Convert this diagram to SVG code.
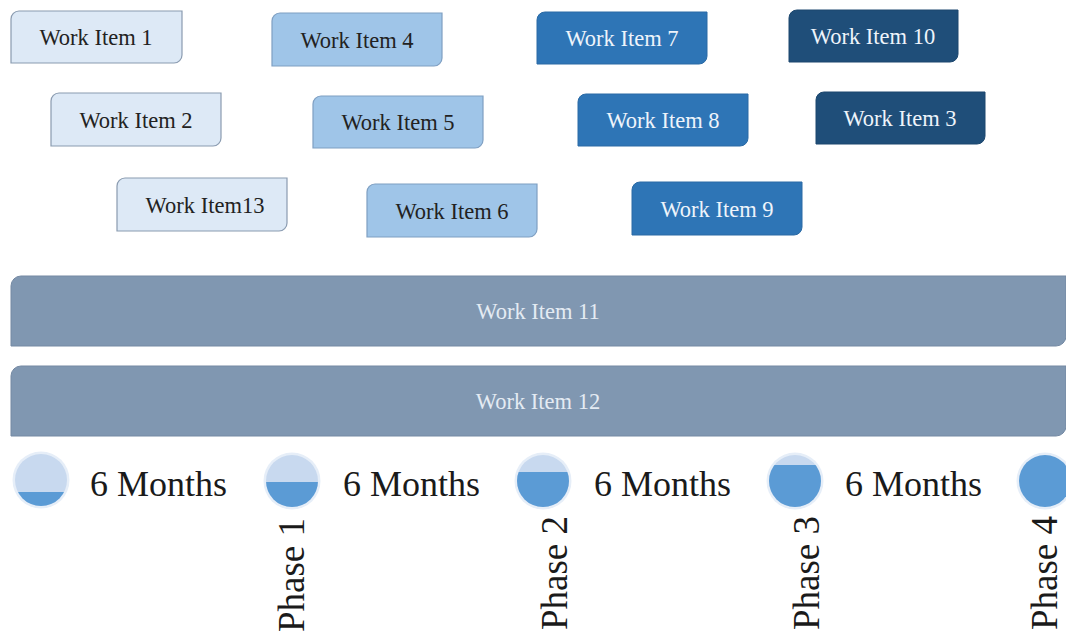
<svg xmlns="http://www.w3.org/2000/svg" width="1066" height="639" viewBox="0 0 1066 639">
<style>
.t{font-family:"Liberation Serif","Times New Roman",serif;font-size:22.5px;text-anchor:middle}
.dk{fill:#222}
.lt{fill:#eef4fb}
.bt{fill:#e4ebf3}
.b1{fill:#dde9f6;stroke:#8a9bb0;stroke-width:1.2}
.b2{fill:#9fc5e8;stroke:#7f9fc2;stroke-width:1.2}
.b3{fill:#2e75b6;stroke:#2a6aa5;stroke-width:1}
.b4{fill:#1f4e79;stroke:#1c476e;stroke-width:1}
.bar{fill:#8097b1;stroke:#7489a3;stroke-width:1}
.m{font-family:"Liberation Serif","Times New Roman",serif;font-size:36px;fill:#1a1a1a}
.p{font-family:"Liberation Serif","Times New Roman",serif;font-size:37px;fill:#1a1a1a;text-anchor:end}
.halo{fill:#e6eef8}
.bg{fill:#c8d9ef}
.fl{fill:#5b9bd5}
</style>
<defs>
<clipPath id="c1"><circle cx="41" cy="480" r="26"/></clipPath>
<clipPath id="c2"><circle cx="292" cy="481" r="26"/></clipPath>
<clipPath id="c3"><circle cx="543" cy="481" r="26"/></clipPath>
<clipPath id="c4"><circle cx="795" cy="481" r="26"/></clipPath>
</defs>
<rect width="1066" height="639" fill="#fff"/>
<g id="wi1"><path class="b1" d="M19,11H182V55A8,8 0 0 1 174,63H11V19A8,8 0 0 1 19,11Z"/><text class="t dk" x="96" y="45">Work Item 1</text></g>
<g id="wi4"><path class="b2" d="M280,13H442V58A8,8 0 0 1 434,66H272V21A8,8 0 0 1 280,13Z"/><text class="t dk" x="357" y="48">Work Item 4</text></g>
<g id="wi7"><path class="b3" d="M545,12H707V56A8,8 0 0 1 699,64H537V20A8,8 0 0 1 545,12Z"/><text class="t lt" x="622" y="46">Work Item 7</text></g>
<g id="wi10"><path class="b4" d="M797,10H958V54A8,8 0 0 1 950,62H789V18A8,8 0 0 1 797,10Z"/><text class="t lt" x="873" y="44">Work Item 10</text></g>
<g id="wi2"><path class="b1" d="M59,93H221V138A8,8 0 0 1 213,146H51V101A8,8 0 0 1 59,93Z"/><text class="t dk" x="136" y="128">Work Item 2</text></g>
<g id="wi5"><path class="b2" d="M321,96H483V140A8,8 0 0 1 475,148H313V104A8,8 0 0 1 321,96Z"/><text class="t dk" x="398" y="130">Work Item 5</text></g>
<g id="wi8"><path class="b3" d="M586,94H748V138A8,8 0 0 1 740,146H578V102A8,8 0 0 1 586,94Z"/><text class="t lt" x="663" y="128">Work Item 8</text></g>
<g id="wi3"><path class="b4" d="M824,92H985V136A8,8 0 0 1 977,144H816V100A8,8 0 0 1 824,92Z"/><text class="t lt" x="900" y="126">Work Item 3</text></g>
<g id="wi13"><path class="b1" d="M125,178H287V223A8,8 0 0 1 279,231H117V186A8,8 0 0 1 125,178Z"/><text class="t dk" x="205" y="213">Work Item13</text></g>
<g id="wi6"><path class="b2" d="M375,184H537V229A8,8 0 0 1 529,237H367V192A8,8 0 0 1 375,184Z"/><text class="t dk" x="452" y="219">Work Item 6</text></g>
<g id="wi9"><path class="b3" d="M640,182H802V227A8,8 0 0 1 794,235H632V190A8,8 0 0 1 640,182Z"/><text class="t lt" x="717" y="217">Work Item 9</text></g>
<g id="wi11"><path class="bar" d="M21,276H1066V336A10,10 0 0 1 1056,346H11V286A10,10 0 0 1 21,276Z"/><text class="t bt" x="538" y="319">Work Item 11</text></g>
<g id="wi12"><path class="bar" d="M21,366H1066V426A10,10 0 0 1 1056,436H11V376A10,10 0 0 1 21,366Z"/><text class="t bt" x="538" y="409">Work Item 12</text></g>
<g id="timeline">
<circle class="halo" cx="41" cy="480" r="28.5"/><circle class="bg" cx="41" cy="480" r="26"/><rect class="fl" x="14" y="492" width="54" height="16" clip-path="url(#c1)"/>
<circle class="halo" cx="292" cy="481" r="28.5"/><circle class="bg" cx="292" cy="481" r="26"/><rect class="fl" x="265" y="482" width="54" height="26" clip-path="url(#c2)"/>
<circle class="halo" cx="543" cy="481" r="28.5"/><circle class="bg" cx="543" cy="481" r="26"/><rect class="fl" x="516" y="472" width="54" height="36" clip-path="url(#c3)"/>
<circle class="halo" cx="795" cy="481" r="28.5"/><circle class="bg" cx="795" cy="481" r="26"/><rect class="fl" x="768" y="465" width="54" height="44" clip-path="url(#c4)"/>
<circle class="halo" cx="1045" cy="481" r="28.5"/><circle class="fl" cx="1045" cy="481" r="26"/>
<text class="m" x="90" y="496">6 Months</text>
<text class="m" x="343" y="496">6 Months</text>
<text class="m" x="594" y="496">6 Months</text>
<text class="m" x="845" y="496">6 Months</text>
<text class="p" transform="translate(304,518) rotate(-90)">Phase 1</text>
<text class="p" transform="translate(567,516) rotate(-90)">Phase 2</text>
<text class="p" transform="translate(819,516) rotate(-90)">Phase 3</text>
<text class="p" transform="translate(1057,516) rotate(-90)">Phase 4</text>
</g>
</svg>
